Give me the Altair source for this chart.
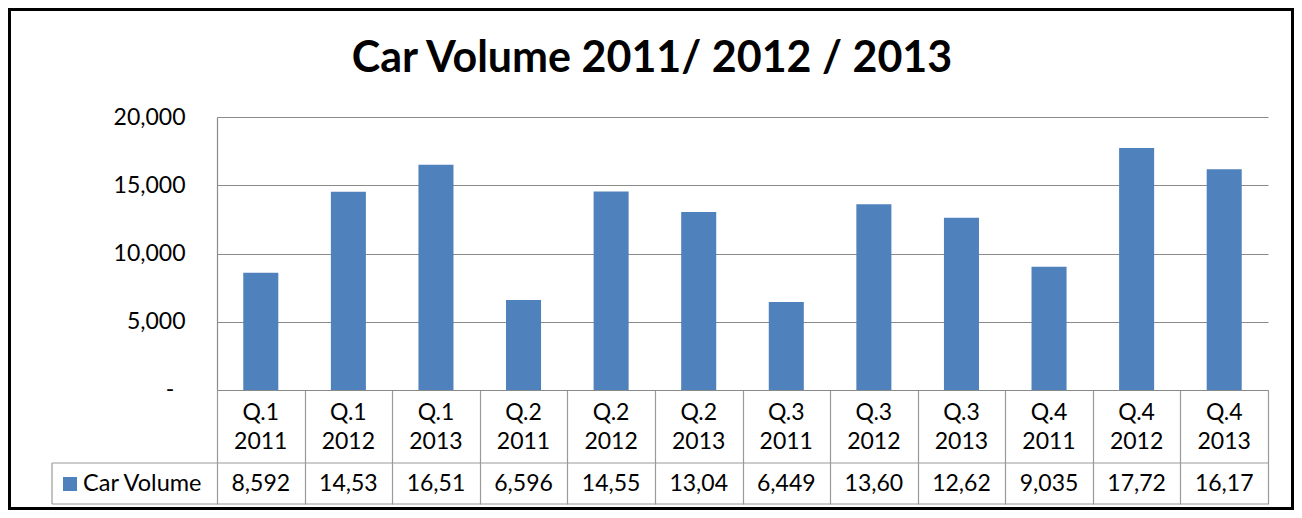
import altair as alt
import pandas as pd

# ---- data ----
quarters = ["Q.1", "Q.1", "Q.1", "Q.2", "Q.2", "Q.2", "Q.3", "Q.3", "Q.3", "Q.4", "Q.4", "Q.4"]
years = ["2011", "2012", "2013", "2011", "2012", "2013", "2011", "2012", "2013", "2011", "2012", "2013"]
volumes = [8592, 14530, 16510, 6596, 14550, 13040, 6449, 13600, 12620, 9035, 17720, 16170]
table_labels = ["8,592", "14,53", "16,51", "6,596", "14,55", "13,04",
                "6,449", "13,60", "12,62", "9,035", "17,72", "16,17"]
y_ticks = [0, 5000, 10000, 15000, 20000]
zero_label = "-"
series_name = "Car Volume"
title_text = "Car Volume 2011/ 2012 / 2013"

cats = [q + " " + y for q, y in zip(quarters, years)]
df = pd.DataFrame({"cat": cats, "quarter": quarters, "year": years,
                   "vol": volumes, "label": table_labels})
one = pd.DataFrame({"k": [0]})

W, H = 1051, 273
FONT = "Lato"
BLUE = "#4F81BD"
GRID = "#8a8a8a"
TABLE = "#9a9a9a"

x_scale = alt.Scale(paddingInner=0, paddingOuter=0)
x_enc = alt.X("cat:N", sort=cats, scale=x_scale,
              axis=alt.Axis(labels=False, title=None, domainColor=GRID, domainWidth=1.2,
                            tickColor=TABLE, tickWidth=1.2, tickSize=114, tickBand="extent"))

y_enc = alt.Y("vol:Q", scale=alt.Scale(domain=[0, 20000]),
              axis=alt.Axis(values=y_ticks, title=None,
                            labelExpr="datum.value == 0 ? '' : format(datum.value, ',')",
                            labelFont=FONT, labelFontSize=23, labelColor="black",
                            labelPadding=32, ticks=False,
                            domainColor=GRID, domainWidth=1.2,
                            gridColor=GRID, gridWidth=1.2))

base = alt.Chart(df)

bars = base.mark_bar(color=BLUE, width=alt.RelativeBandSize(0.4)).encode(x=x_enc, y=y_enc)

xt = alt.X("cat:N", sort=cats)
q_text = base.mark_text(font=FONT, fontSize=23, color="black", baseline="middle").encode(
    x=xt, y=alt.value(296), text="quarter:N")
y_text = base.mark_text(font=FONT, fontSize=23, color="black", baseline="middle").encode(
    x=xt, y=alt.value(325), text="year:N")
v_text = base.mark_text(font=FONT, fontSize=23, color="black", baseline="middle").encode(
    x=xt, y=alt.value(367), text="label:N")

c1 = alt.Chart(one)
zero_text = c1.mark_text(font=FONT, fontSize=23, color="black", align="center", baseline="middle").encode(
    x=alt.value(-47), y=alt.value(H), text=alt.value(zero_label))
hline1 = c1.mark_rule(color=TABLE, strokeWidth=1.2).encode(
    x=alt.value(-165), x2=alt.value(W), y=alt.value(346))
hline2 = c1.mark_rule(color=TABLE, strokeWidth=1.2).encode(
    x=alt.value(-165), x2=alt.value(W), y=alt.value(387))
vline = c1.mark_rule(color=TABLE, strokeWidth=1.2).encode(
    x=alt.value(-165), y=alt.value(346), y2=alt.value(387))
swatch = c1.mark_point(shape="square", filled=True, color=BLUE, size=196, opacity=1).encode(
    x=alt.value(-147), y=alt.value(367))
legend_text = c1.mark_text(font=FONT, fontSize=23.5, color="black", align="left", baseline="middle").encode(
    x=alt.value(-134), y=alt.value(367), text=alt.value(series_name))
title = c1.mark_text(font=FONT, fontSize=43, fontWeight="bold", color="black",
                     align="center", baseline="middle").encode(
    x=alt.value(435), y=alt.value(-58), text=alt.value(title_text))
border = c1.mark_rect(fillOpacity=0, stroke="black", strokeWidth=3).encode(
    x=alt.value(-207.5), x2=alt.value(1075.5), y=alt.value(-107.5), y2=alt.value(391.5))

chart = alt.layer(bars, q_text, y_text, v_text, zero_text, hline1, hline2, vline,
                  swatch, legend_text, title, border).properties(
    width=W, height=H,
    autosize=alt.AutoSizeParams(type="none"),
    padding={"left": 209, "top": 109, "right": 26, "bottom": 120},
    background="white",
).configure_view(strokeWidth=0)

chart.save("out.html", embed_options={"renderer": "svg", "actions": False})
